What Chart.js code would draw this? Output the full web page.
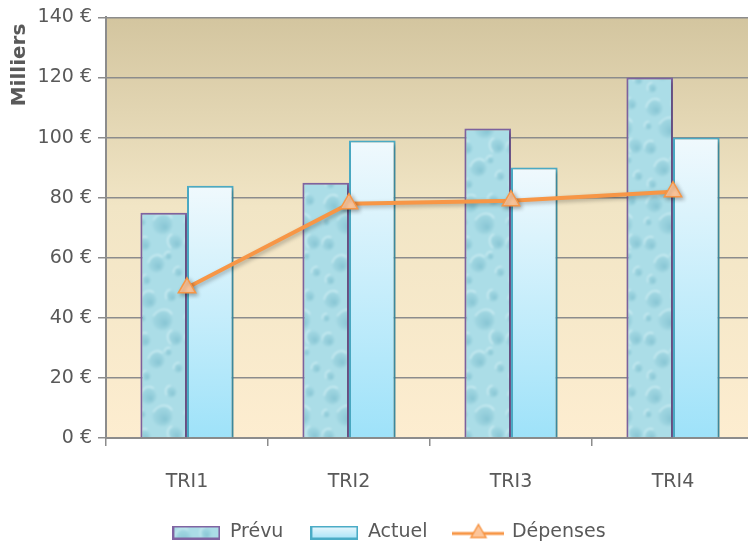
<!DOCTYPE html>
<html lang="fr">
<head>
<meta charset="utf-8">
<title>Prévu, Actuel et Dépenses par trimestre</title>
<script src="https://cdn.jsdelivr.net/npm/chart.js@4.4.1/dist/chart.umd.min.js"></script>
<style>
  html, body { margin: 0; padding: 0; background: #ffffff; overflow: hidden; }
  #wrap { width: 748px; height: 541px; overflow: hidden; }
  canvas { display: block; }
</style>
</head>
<body>
<div id="wrap"><canvas id="chart" width="778" height="552"></canvas></div>
<script>
// Quarterly figures, in thousands of euros
const trimestres = ['TRI1', 'TRI2', 'TRI3', 'TRI4'];
const prevu = [75, 85, 103, 120];
const actuel = [84, 99, 90, 100];
const depenses = [50, 78, 79, 82];
const euroTicks = ['0 €', '20 €', '40 €', '60 €', '80 €', '100 €', '120 €', '140 €'];

const TEXT = '#595959';
const AXIS = '#8c8c8c';
const FONT = 'DejaVu Sans';

// Soft water-drop texture used for the "Prévu" bars
function dropletTile() {
  const W = 46, H = 96;
  const raw = document.createElement('canvas');
  raw.width = W; raw.height = H;
  const g = raw.getContext('2d');
  g.fillStyle = '#abdde7';
  g.fillRect(0, 0, W, H);
  const drops = [
    [10, 12, 9, 0.4], [33, 8, 6, -0.3], [24, 32, 11, 0.8], [6, 52, 7, 0.2],
    [37, 50, 8, -0.6], [18, 72, 9, 0.5], [40, 80, 5, 0.1], [30, 64, 4, 0.3],
    [4, 30, 4, 0.0], [8, 88, 5, -0.2]
  ];
  drops.forEach(([x, y, r, rot]) => {
    const rg = g.createRadialGradient(x + r * 0.3, y + r * 0.3, r * 0.1, x, y, r);
    rg.addColorStop(0, 'rgba(110,180,198,0.55)');
    rg.addColorStop(0.75, 'rgba(135,198,212,0.35)');
    rg.addColorStop(1, 'rgba(150,205,218,0)');
    g.fillStyle = rg;
    g.beginPath();
    g.ellipse(x, y, r, r * 1.25, rot, 0, Math.PI * 2);
    g.fill();
    g.strokeStyle = 'rgba(235,252,253,0.55)';
    g.lineWidth = 1.6;
    g.beginPath();
    g.ellipse(x, y, r * 0.85, r * 1.05, rot, Math.PI * 0.9, Math.PI * 1.6);
    g.stroke();
  });
  // Lay out a 3x3 mosaic, blur it as a whole, keep the middle: seamless tile
  const mosaic = document.createElement('canvas');
  mosaic.width = W * 3; mosaic.height = H * 3;
  const mg = mosaic.getContext('2d');
  for (let i = 0; i < 3; i++) for (let j = 0; j < 3; j++) mg.drawImage(raw, i * W, j * H);
  const blurred = document.createElement('canvas');
  blurred.width = W * 3; blurred.height = H * 3;
  const bg = blurred.getContext('2d');
  bg.filter = 'blur(1.2px)';
  bg.drawImage(mosaic, 0, 0);
  const out = document.createElement('canvas');
  out.width = W; out.height = H;
  out.getContext('2d').drawImage(blurred, W, H, W, H, 0, 0, W, H);
  return out;
}
const tile = dropletTile();
const ctx = document.getElementById('chart').getContext('2d');
const dropPattern = ctx.createPattern(tile, 'repeat');

// Legend swatches
function swatchPrevu() {
  const c = document.createElement('canvas');
  c.width = 48; c.height = 14;
  const g = c.getContext('2d');
  g.fillStyle = g.createPattern(tile, 'repeat');
  g.fillRect(0, 0, 48, 14);
  g.strokeStyle = '#8064a2'; g.lineWidth = 2;
  g.strokeRect(1, 1, 46, 12);
  return c;
}
function swatchActuel() {
  const c = document.createElement('canvas');
  c.width = 48; c.height = 14;
  const g = c.getContext('2d');
  const lg = g.createLinearGradient(0, 0, 0, 14);
  lg.addColorStop(0, '#eef9fd'); lg.addColorStop(1, '#a6e3f8');
  g.fillStyle = lg;
  g.fillRect(0, 0, 48, 14);
  g.strokeStyle = '#4bacc6'; g.lineWidth = 2;
  g.strokeRect(1, 1, 46, 12);
  return c;
}
function swatchDepenses() {
  const c = document.createElement('canvas');
  c.width = 52; c.height = 22;
  const g = c.getContext('2d');
  g.strokeStyle = '#f79646'; g.lineWidth = 3;
  g.beginPath(); g.moveTo(0, 12); g.lineTo(52, 12); g.stroke();
  g.beginPath();
  g.moveTo(26, 3); g.lineTo(33.5, 16); g.lineTo(18.5, 16); g.closePath();
  g.fillStyle = '#fcc59a'; g.fill();
  g.lineWidth = 1.5; g.stroke();
  return c;
}
const swatches = [swatchPrevu(), swatchActuel(), swatchDepenses()];

// Per-bar vertical gradient for the "Actuel" bars
function actuelFill(c) {
  const chart = c.chart;
  if (!chart.chartArea || c.type !== 'data' || !chart.scales.y) return '#c8eefb';
  const y = chart.scales.y;
  const top = y.getPixelForValue(c.raw);
  const bottom = y.getPixelForValue(0);
  const g = chart.ctx.createLinearGradient(0, top, 0, bottom);
  g.addColorStop(0, '#f0f9fd');
  g.addColorStop(1, '#9ee2f9');
  return g;
}

const plotBackground = {
  id: 'plotBackground',
  beforeDraw(chart) {
    const { ctx, chartArea: a } = chart;
    const g = ctx.createLinearGradient(0, a.top, 0, a.bottom);
    g.addColorStop(0, '#d3c59f');
    g.addColorStop(0.45, '#f1e5c5');
    g.addColorStop(1, '#fdedd0');
    ctx.save();
    ctx.fillStyle = g;
    ctx.fillRect(a.left, a.top, a.right - a.left, a.bottom - a.top);
    ctx.restore();
  }
};

const softShadow = {
  id: 'softShadow',
  beforeDatasetDraw(chart) {
    const ctx = chart.ctx;
    ctx.save();
    ctx.shadowColor = 'rgba(0,0,0,0.28)';
    ctx.shadowBlur = 4;
    ctx.shadowOffsetX = 2;
    ctx.shadowOffsetY = 2;
  },
  afterDatasetDraw(chart) {
    chart.ctx.restore();
  }
};

const unitTitle = {
  id: 'unitTitle',
  afterDraw(chart) {
    const ctx = chart.ctx;
    ctx.save();
    ctx.translate(20, 65);
    ctx.rotate(-Math.PI / 2);
    ctx.font = 'bold 20px "' + FONT + '"';
    ctx.fillStyle = TEXT;
    ctx.textAlign = 'center';
    ctx.textBaseline = 'middle';
    ctx.fillText('Milliers', 0, 0);
    ctx.restore();
  }
};

Chart.defaults.font.family = FONT;
Chart.defaults.font.size = 19;
Chart.defaults.color = TEXT;

new Chart(ctx, {
  data: {
    labels: trimestres,
    datasets: [
      {
        type: 'bar',
        label: 'Prévu',
        data: prevu,
        backgroundColor: dropPattern,
        borderColor: '#8064a2',
        borderWidth: 2,
        order: 1
      },
      {
        type: 'bar',
        label: 'Actuel',
        data: actuel,
        backgroundColor: actuelFill,
        borderColor: '#4bacc6',
        borderWidth: 2,
        order: 1
      },
      {
        type: 'line',
        label: 'Dépenses',
        data: depenses,
        borderColor: '#f79646',
        borderWidth: 4,
        pointStyle: 'triangle',
        pointRadius: 10,
        pointBackgroundColor: '#fcc59a',
        pointBorderColor: '#f79646',
        pointBorderWidth: 1.5,
        tension: 0,
        order: 0
      }
    ]
  },
  options: {
    responsive: false,
    animation: false,
    layout: { padding: { top: 17, left: 0, right: 0, bottom: 0 } },
    datasets: {
      bar: { categoryPercentage: 0.575, barPercentage: 1.0 }
    },
    scales: {
      x: {
        grid: { offset: true, drawOnChartArea: false, drawTicks: true, tickLength: 8, color: AXIS, lineWidth: 1.5 },
        border: { color: AXIS, width: 2 },
        ticks: { padding: 25, color: TEXT },
        afterFit(s) {
          const lg = s.chart.legend ? s.chart.legend.height : 0;
          s.height = s.chart.height - 438 - lg;
        }
      },
      y: {
        min: 0,
        max: 140,
        ticks: {
          stepSize: 20,
          padding: 6,
          color: TEXT,
          callback: (v, i) => euroTicks[i]
        },
        grid: { color: AXIS, lineWidth: 1.5, tickLength: 8, drawTicks: true },
        border: { color: AXIS, width: 2 },
        afterFit(s) { s.width = 106; }
      },
      y2: {
        position: 'right',
        grid: { display: false },
        border: { display: false },
        ticks: { display: false },
        afterFit(s) { s.width = 24; }
      }
    },
    plugins: {
      tooltip: { enabled: false },
      legend: {
        position: 'bottom',
        labels: {
          usePointStyle: true,
          pointStyleWidth: 48,
          padding: 27,
          color: TEXT,
          font: { size: 19 },
          sort: (a, b) => a.datasetIndex - b.datasetIndex,
          generateLabels(chart) {
            const items = Chart.defaults.plugins.legend.labels.generateLabels(chart);
            items.forEach(it => { it.pointStyle = swatches[it.datasetIndex]; });
            return items;
          }
        }
      }
    }
  },
  plugins: [plotBackground, softShadow, unitTitle]
});
</script>
</body>
</html>
